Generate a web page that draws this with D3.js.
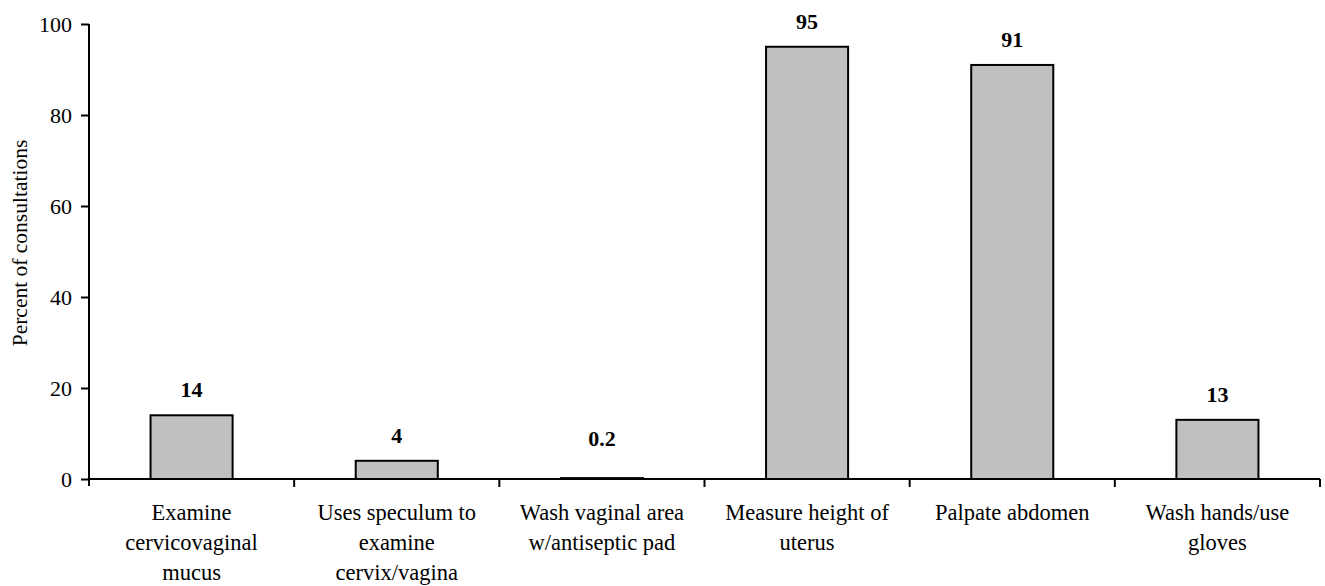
<!DOCTYPE html>
<html>
<head>
<meta charset="utf-8">
<script src="https://cdn.jsdelivr.net/npm/d3@7"></script>
<style>
  body { margin: 0; background: #fff; }
</style>
</head>
<body>
<div id="chart"></div>
<script>
// data
var categories = [
  "Examine cervicovaginal mucus",
  "Uses speculum to examine cervix/vagina",
  "Wash vaginal area w/antiseptic pad",
  "Measure height of uterus",
  "Palpate abdomen",
  "Wash hands/use gloves"
];
var labelLines = [
  ["Examine", "cervicovaginal", "mucus"],
  ["Uses speculum to", "examine", "cervix/vagina"],
  ["Wash vaginal area", "w/antiseptic pad"],
  ["Measure height of", "uterus"],
  ["Palpate abdomen"],
  ["Wash hands/use", "gloves"]
];
var percents = [14, 4, 0.2, 95, 91, 13];
var valueLabels = ["14", "4", "0.2", "95", "91", "13"];
var yTicks = [0, 20, 40, 60, 80, 100];

var FONT = "'Liberation Serif', 'Times New Roman', Times, 'DejaVu Serif', serif";

var W = 1325, H = 586;
var margin = {top: 24, right: 5, bottom: 105, left: 89},
    width = W - margin.left - margin.right,
    height = H - margin.top - margin.bottom;

var svg = d3.select("#chart")
  .append("svg")
    .attr("width", W)
    .attr("height", H)
    .attr("font-family", FONT)
  .append("g")
    .attr("transform", "translate(" + margin.left + "," + margin.top + ")");

var x = d3.scaleBand()
  .domain(categories)
  .range([0, 1231])
  .paddingInner(0)
  .paddingOuter(0);

var y = d3.scaleLinear()
  .domain([0, 100])
  .range([height - 2, 0]);

var y0 = y(0);

// bars
var bw = x.bandwidth();
svg.selectAll("rect.bar")
  .data(percents)
  .enter()
  .append("rect")
    .attr("class", "bar")
    .attr("x", function(d, i) { return x(categories[i]) + bw * 0.3; })
    .attr("y", function(d) { return y(d); })
    .attr("width", bw * 0.4)
    .attr("height", function(d) { return y0 - y(d); })
    .attr("fill", "#c0c0c0")
    .attr("stroke", "#000")
    .attr("stroke-width", 2);

// value labels
svg.selectAll("text.val")
  .data(percents)
  .enter()
  .append("text")
    .attr("class", "val")
    .attr("x", function(d, i) { return x(categories[i]) + bw / 2; })
    .attr("y", function(d) { return Math.min(y(d) - 18, y0 - 33); })
    .attr("text-anchor", "middle")
    .style("font-family", FONT)
    .style("font-size", "22px")
    .style("font-weight", "bold")
    .text(function(d, i) { return valueLabels[i]; });

// Y axis
var yAxis = svg.append("g")
  .call(d3.axisLeft(y).tickValues(yTicks).tickSize(8).tickPadding(9).tickFormat(d3.format("d")));
yAxis.attr("font-family", FONT);
yAxis.select(".domain").attr("stroke-width", 2).attr("d", "M0," + (y0 + 7) + "V0");
yAxis.selectAll(".tick line").attr("stroke-width", 2);
yAxis.selectAll(".tick text")
  .style("font-size", "22px")
  .style("font-family", FONT);

// X axis with ticks at category boundaries
var xg = svg.append("g").attr("transform", "translate(0," + y0 + ")");
xg.append("line")
  .attr("x1", 0).attr("x2", x.range()[1])
  .attr("y1", 0).attr("y2", 0)
  .attr("stroke", "#000").attr("stroke-width", 2);
xg.selectAll("line.sep")
  .data(categories)
  .enter()
  .append("line")
    .attr("class", "sep")
    .attr("x1", function(d) { return x(d) + bw; })
    .attr("x2", function(d) { return x(d) + bw; })
    .attr("y1", 0).attr("y2", 8)
    .attr("stroke", "#000").attr("stroke-width", 2);

var lab = xg.selectAll("text.cat")
  .data(categories)
  .enter()
  .append("text")
    .attr("class", "cat")
    .attr("text-anchor", "middle")
    .attr("transform", function(d) { return "translate(" + (x(d) + bw / 2) + ",41)"; })
    .style("font-family", FONT)
    .style("font-size", "22.5px");
lab.selectAll("tspan")
  .data(function(d, i) { return labelLines[i]; })
  .enter()
  .append("tspan")
    .attr("x", 0)
    .attr("y", function(d, j) { return j * 30; })
    .text(function(d) { return d; });

// y axis title
svg.append("text")
  .attr("transform", "translate(" + (27 - margin.left) + ",219) rotate(-90)")
  .attr("text-anchor", "middle")
  .style("font-family", FONT)
  .style("font-size", "21.5px")
  .text("Percent of consultations");
</script>
</body>
</html>
